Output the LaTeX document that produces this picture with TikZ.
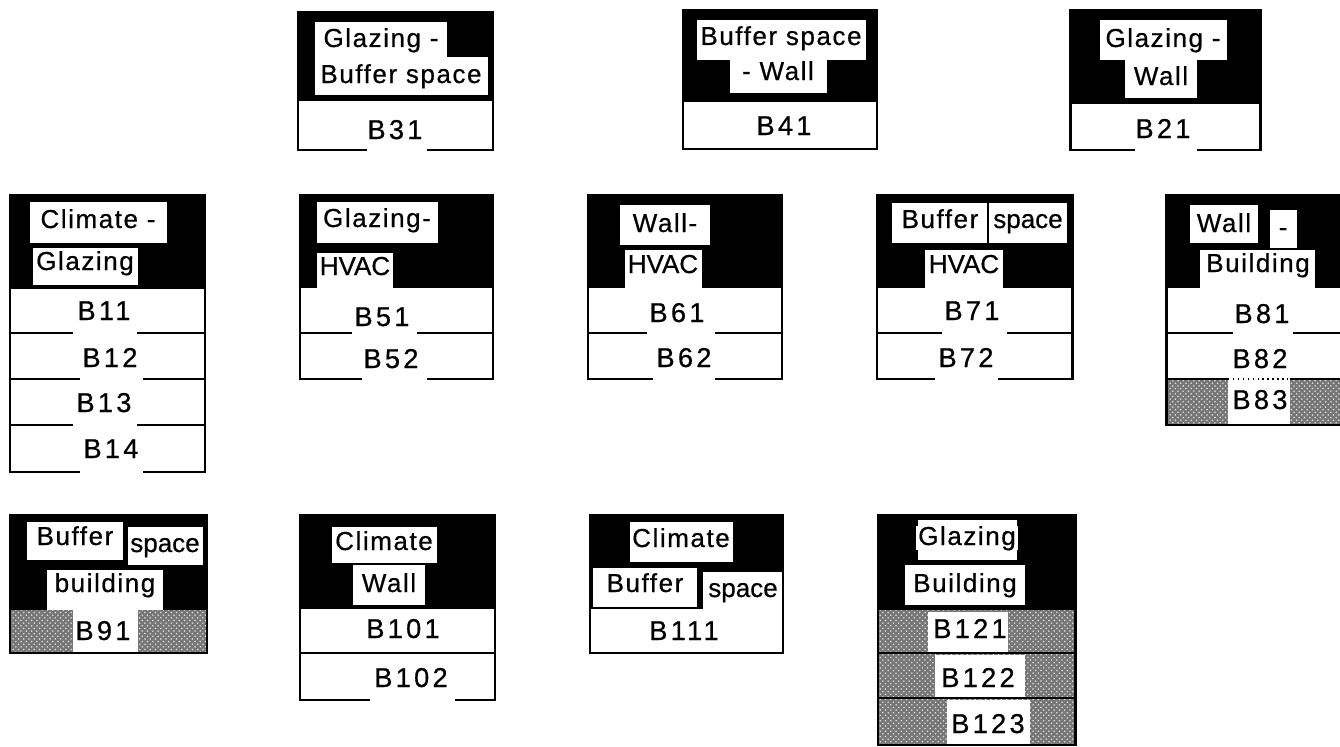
\documentclass[tikz,border=0pt]{standalone}
\usepackage{fontspec}
\setmainfont{Liberation Sans}
\newfontfamily\hdrfont[LetterSpace=6, FakeBold=0.6]{Liberation Sans}
\newfontfamily\codefont[LetterSpace=12, FakeBold=0.6]{Liberation Sans}
\newfontfamily\tightfont[FakeBold=0.6]{Liberation Sans}
\usetikzlibrary{patterns}
\definecolor{hatchgray}{RGB}{118,118,118}

\begin{document}
\begin{tikzpicture}[x=0.02cm, y=-0.02cm,
  frame/.style={draw=black, line width=1.7pt},
  lbl/.style={fill=white, inner xsep=1pt, inner ysep=0pt, anchor=base,
    font=\hdrfont\fontsize{14.8}{16}\selectfont},
  tight/.style={lbl, font=\tightfont\fontsize{14.8}{16}\selectfont},
  code/.style={inner sep=0pt, anchor=base, font=\codefont\fontsize{15.5}{17}\selectfont},
  hatch/.style={fill=hatchgray, postaction={pattern=crosshatch dots, pattern color=white!75!gray}}]
  % one unit = one pixel of the scanned sheet, y grows downwards
  \useasboundingbox (0,0) rectangle (1340,747);

  % ===================== top row =====================

  % --- B31 : Glazing - Buffer space ---
  \fill[black] (298,12) rectangle (493,100);
  \fill[white] (315,22) rectangle (447,57);
  \fill[white] (315,57) rectangle (488,95);
  \draw[frame] (298,12) rectangle (493,150);
  \draw[frame] (298,100) -- (493,100);
  \fill[white] (367,144) rectangle (427,156); % gap under the code
  \node[lbl] (g31a) at (381,47) {Glazing -};
  \node[lbl] (g31b) at (401,83) {Buffer space};
  \node[code] (b31) at (395,139) {B31};

  % --- B41 : Buffer space - Wall ---
  \fill[black] (683,10) rectangle (877,101);
  \fill[white] (697,20) rectangle (866,60);
  \fill[white] (730,60) rectangle (827,93);
  \draw[frame] (683,10) rectangle (877,149);
  \draw[frame] (683,101) -- (877,101);
  \node[lbl] (g41a) at (781,45) {Buffer space};
  \node[lbl] (g41b) at (778,80) {- Wall};
  \node[code] (b41) at (784,135) {B41};

  % --- B21 : Glazing - Wall ---
  \fill[black] (1070,10) rectangle (1260,103);
  \fill[white] (1100,20) rectangle (1227,60);
  \fill[white] (1125,60) rectangle (1197,98);
  \draw[frame] (1070,10) rectangle (1260,150);
  \draw[frame] (1070,103) -- (1260,103);
  \fill[white] (1135,144) rectangle (1197,156);
  \node[lbl] (g21a) at (1163,47) {Glazing -};
  \node[lbl] (g21b) at (1161,85) {Wall};
  \node[code] (b21) at (1163,138) {B21};

  % ===================== middle row =====================

  % --- B11..B14 : Climate - Glazing ---
  \fill[black] (10,195) rectangle (205,288);
  \fill[white] (30,202) rectangle (167,243);
  \fill[white] (33,248) rectangle (138,285);
  \draw[frame] (10,195) rectangle (205,472);
  \draw[frame] (10,288) -- (205,288);
  \draw[frame] (10,333) -- (205,333);
  \draw[frame] (10,379) -- (205,379);
  \draw[frame] (10,425) -- (205,425);
  \fill[white] (73,327) rectangle (137,339);
  \fill[white] (80,373) rectangle (143,385);
  \fill[white] (73,419) rectangle (137,431);
  \fill[white] (80,466) rectangle (143,478);
  \node[lbl] (g11a) at (98,228) {Climate -};
  \node[lbl] (g11b) at (85,270) {Glazing};
  \node[code] (b11) at (104,320) {B11};
  \node[code] (b12) at (110,367) {B12};
  \node[code] (b13) at (104,412) {B13};
  \node[code] (b14) at (111,458) {B14};

  % --- B51, B52 : Glazing - HVAC ---
  \fill[black] (300,195) rectangle (493,288);
  \fill[white] (317,202) rectangle (438,243);
  \fill[white] (317,253) rectangle (393,290);
  \draw[frame] (300,195) rectangle (493,379);
  \draw[frame] (300,333) -- (493,333);
  \fill[white] (352,327) rectangle (417,339);
  \fill[white] (362,373) rectangle (427,385);
  \node[lbl] (g51a) at (377,227) {Glazing-};
  \node[tight] (g51b) at (355,275) {HVAC};
  \node[code] (b51) at (382,326) {B51};
  \node[code] (b52) at (391,368) {B52};

  % --- B61, B62 : Wall - HVAC ---
  \fill[black] (588,195) rectangle (782,288);
  \fill[white] (620,205) rectangle (710,245);
  \fill[white] (625,250) rectangle (702,290);
  \draw[frame] (588,195) rectangle (782,379);
  \draw[frame] (588,333) -- (782,333);
  \fill[white] (647,327) rectangle (715,339);
  \fill[white] (653,373) rectangle (715,385);
  \node[lbl] (g61a) at (665,232) {Wall-};
  \node[tight] (g61b) at (663,273) {HVAC};
  \node[code] (b61) at (677,322) {B61};
  \node[code] (b62) at (684,367) {B62};

  % --- B71, B72 : Buffer space - HVAC ---
  \fill[black] (877,195) rectangle (1072,288);
  \fill[white] (892,203) rectangle (987,243);
  \fill[white] (989,203) rectangle (1067,243);
  \fill[white] (925,250) rectangle (1003,290);
  \draw[frame] (877,195) rectangle (1072,379);
  \draw[frame] (877,333) -- (1072,333);
  \fill[white] (942,327) rectangle (1007,339);
  \fill[white] (935,373) rectangle (998,385);
  \node[lbl] (g71a) at (940,228) {Buffer};
  \node[tight] (g71b) at (1028,228) {space};
  \node[tight] (g71c) at (964,273) {HVAC};
  \node[code] (b71) at (972,320) {B71};
  \node[code] (b72) at (966,367) {B72};

  % --- B81..B83 : Wall - Building (right edge cut off) ---
  \fill[black] (1166,195) rectangle (1345,288);
  \fill[white] (1190,205) rectangle (1258,243);
  \fill[white] (1270,210) rectangle (1297,248);
  \fill[white] (1200,250) rectangle (1315,290);
  \fill[hatch] (1166,379) rectangle (1345,425);
  \fill[white] (1228,379) rectangle (1290,425);
  \draw[frame] (1166,195) rectangle (1345,425);
  \draw[frame] (1166,333) -- (1345,333);
  \draw[frame] (1166,379) -- (1345,379);
  \fill[white] (1233,327) rectangle (1293,339);
  \fill[white] (1228,376) rectangle (1290,382);
  \draw[dotted, thick] (1228,379) -- (1290,379);
  \node[lbl] (g81a) at (1224,232) {Wall};
  \node[lbl] (g81b) at (1283,236) {-};
  \node[lbl] (g81c) at (1258,272) {Building};
  \node[code] (b81) at (1262,323) {B81};
  \node[code] (b82) at (1260,368) {B82};
  \node[code] (b83) at (1260,409) {B83};

  % ===================== bottom row =====================

  % --- B91 : Buffer space building ---
  \fill[black] (10,515) rectangle (207,610);
  \fill[white] (27,522) rectangle (123,560);
  \fill[white] (128,527) rectangle (203,565);
  \fill[white] (47,570) rectangle (163,610);
  \fill[hatch] (10,610) rectangle (207,653);
  \fill[white] (73,610) rectangle (138,653);
  \draw[frame] (10,515) rectangle (207,653);
  \node[lbl] (g91a) at (75,545) {Buffer};
  \node[tight] (g91b) at (165,552) {space};
  \node[lbl] (g91c) at (105,592) {building};
  \node[code] (b91) at (103,640) {B91};

  % --- B101, B102 : Climate Wall ---
  \fill[black] (300,515) rectangle (495,608);
  \fill[white] (332,527) rectangle (437,563);
  \fill[white] (353,565) rectangle (425,605);
  \draw[frame] (300,515) rectangle (495,700);
  \draw[frame] (300,608) -- (495,608);
  \draw[frame] (300,653) -- (495,653);
  \fill[white] (370,694) rectangle (455,706);
  \node[lbl] (g101a) at (384,550) {Climate};
  \node[lbl] (g101b) at (389,592) {Wall};
  \node[code] (b101) at (403,638) {B101};
  \node[code] (b102) at (411,687) {B102};

  % --- B111 : Climate Buffer space ---
  \fill[black] (590,515) rectangle (783,608);
  \fill[white] (630,522) rectangle (733,562);
  \fill[white] (593,568) rectangle (697,607);
  \fill[white] (703,572) rectangle (783,608);
  \draw[frame] (590,515) rectangle (783,653);
  \draw[frame] (590,608) -- (703,608);
  \node[lbl] (g111a) at (681,547) {Climate};
  \node[lbl] (g111b) at (645,592) {Buffer};
  \node[tight] (g111c) at (743,597) {space};
  \node[code] (b111) at (684,640) {B111};

  % --- B121..B123 : Glazing Building ---
  \fill[black] (878,515) rectangle (1075,610);
  \fill[white] (918,520) rectangle (1017,560);
  \fill[white] (905,565) rectangle (1025,605);
  \fill[hatch] (878,610) rectangle (1075,745);
  \fill[white] (928,612) rectangle (1008,652);
  \fill[white] (935,655) rectangle (1025,697);
  \fill[white] (947,700) rectangle (1030,745);
  \draw[frame] (878,515) rectangle (1075,745);
  \draw[frame] (878,653) -- (1075,653);
  \draw[frame] (878,698) -- (1075,698);
  \node[lbl] (g121a) at (967,545) {Glazing};
  \node[lbl] (g121b) at (965,592) {Building};
  \node[code] (b121) at (970,638) {B121};
  \node[code] (b122) at (978,687) {B122};
  \node[code] (b123) at (988,733) {B123};
\end{tikzpicture}
\end{document}
